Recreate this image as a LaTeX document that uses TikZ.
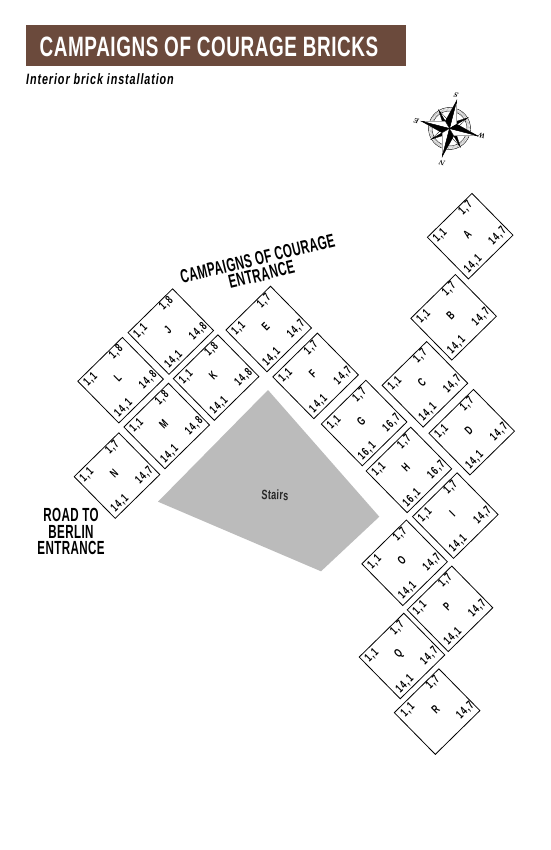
\documentclass[tikz,border=0pt]{standalone}
\usepackage{fontspec}
\usepackage{xcolor}
\newfontfamily\dinfont[FakeStretch=0.676,LetterSpace=2]{Liberation Sans}
\newfontfamily\dinnarrow[FakeStretch=0.61,LetterSpace=2]{Liberation Sans}
\newfontfamily\dinlabel[FakeStretch=0.68,LetterSpace=10]{Liberation Sans}
\newfontfamily\dinitalic[FakeStretch=0.72,LetterSpace=6]{Liberation Sans}
\definecolor{brickbrown}{HTML}{6B4A3C}
\definecolor{stairgray}{HTML}{BBBBBB}
\tikzset{
  brick/.style={draw,line width=.8pt,rectangle,inner sep=0pt,minimum width=62.5pt,minimum height=58.5pt,rotate=44.5},
  bricktext/.style={font=\dinlabel\bfseries\fontsize{12}{12}\selectfont,rotate=45,inner sep=0pt},
  entrance/.style={font=\dinnarrow\bfseries\fontsize{19}{16.6}\selectfont,align=center,inner sep=0pt},
  compassletter/.style={font=\bfseries\itshape\fontsize{7}{7}\selectfont,rotate=166,inner sep=0pt}
}
\begin{document}
\begin{tikzpicture}[x=1pt,y=-1pt]
\useasboundingbox (0,0) rectangle (550,850);
% heading
\fill[brickbrown] (25.5,25.5) rectangle (406,66);
\node[anchor=west,inner sep=0pt,text=white,font=\dinfont\bfseries\fontsize{28}{28}\selectfont] (heading) at (39.5,46.7) {CAMPAIGNS OF COURAGE BRICKS};
\node[anchor=west,inner sep=0pt,font=\dinitalic\bfseries\itshape\fontsize{15}{15}\selectfont] (subheading) at (26,79) {Interior brick installation};
% compass
\begin{scope}[shift={(449.5,128.5)},rotate=-14.5]
\draw[line width=.4pt] (0,0) circle (21);
\draw[line width=.4pt] (0,0) circle (17.5);
\draw[line width=2.4pt,gray!60,dash pattern=on .5pt off .8pt] (0,0) circle (19.2);
\foreach \ang in {45,135,225,315} {
  \begin{scope}[rotate=\ang]
  \filldraw[fill=white,line width=.3pt] (0,0)--(0,-21)--(4,-4)--cycle;
  \filldraw[line width=.3pt] (0,0)--(0,-21)--(-4,-4)--cycle;
  \end{scope}
}
\foreach \ang in {0,90,180,270} {
  \begin{scope}[rotate=\ang]
  \filldraw[fill=white,line width=.3pt] (0,0)--(0,-29)--(6,-6)--cycle;
  \filldraw[line width=.3pt] (0,0)--(0,-29)--(-6,-6)--cycle;
  \end{scope}
}
\end{scope}
\node[compassletter] (compassS) at (456.5,95) {S};
\node[compassletter] (compassN) at (442.5,163) {N};
\node[compassletter] (compassE) at (417,121.5) {E};
\node[compassletter] (compassW) at (482,135.5) {W};
% stairs
\fill[stairgray] (268,390)--(379.3,516.7)--(321,571.3)--(158,501.7)--cycle;
\node[inner sep=0pt,font=\dinfont\bfseries\fontsize{13.5}{14}\selectfont,text=black!85,rotate=-2] (stairs) at (275,495) {Stairs};
% entrances
\node[entrance,rotate=13.5] (courage) at (259.5,266.5) {CAMPAIGNS OF COURAGE\\ENTRANCE};
\node[entrance] (berlin) at (71,531.5) {ROAD TO\\BERLIN\\ENTRANCE};
% bricks
\foreach \nm/\xc/\yc/\cols/\rows in {A/470.2/236.2/7/14,B/453.6/317.3/7/14,C/424.9/384.3/7/14,
  D/471.7/432.2/7/14,E/268.7/329/7/14,F/315.6/375.9/7/14,G/364.1/423/7/16,H/408.9/469.9/7/16,
  I/455.3/515.6/7/14,J/170.8/331.6/8/14,K/216.1/377.6/8/14,L/120.6/380.2/8/14,M/166.7/426/8/14,
  N/117/475.6/7/14,O/404.6/562.8/7/14,P/450/608.8/7/14,Q/402/656/7/14} {
  \node[brick] (\nm) at (\xc,\yc) {};
  \node[bricktext] (\nm-name) at (\xc-3,\yc-2) {\nm};
  \node[bricktext] (\nm-left) at (\xc-30,\yc-.5) {1,1};
  \node[bricktext] (\nm-top) at (\xc-4.5,\yc-28) {1,\cols};
  \node[bricktext] (\nm-right) at (\xc+27.5,\yc) {\rows,\cols};
  \node[bricktext] (\nm-bottom) at (\xc+3,\yc+28) {\rows,1};
}
\node[brick] (R) at (437.1,711.6) {};
\node[bricktext] (R-name) at (435.5,709.5) {R};
\node[bricktext] (R-left) at (408,710) {1,1};
\node[bricktext] (R-top) at (433,682.5) {1,7};
\node[bricktext] (R-right) at (465.5,710.5) {14,7};
\end{tikzpicture}
\end{document}
